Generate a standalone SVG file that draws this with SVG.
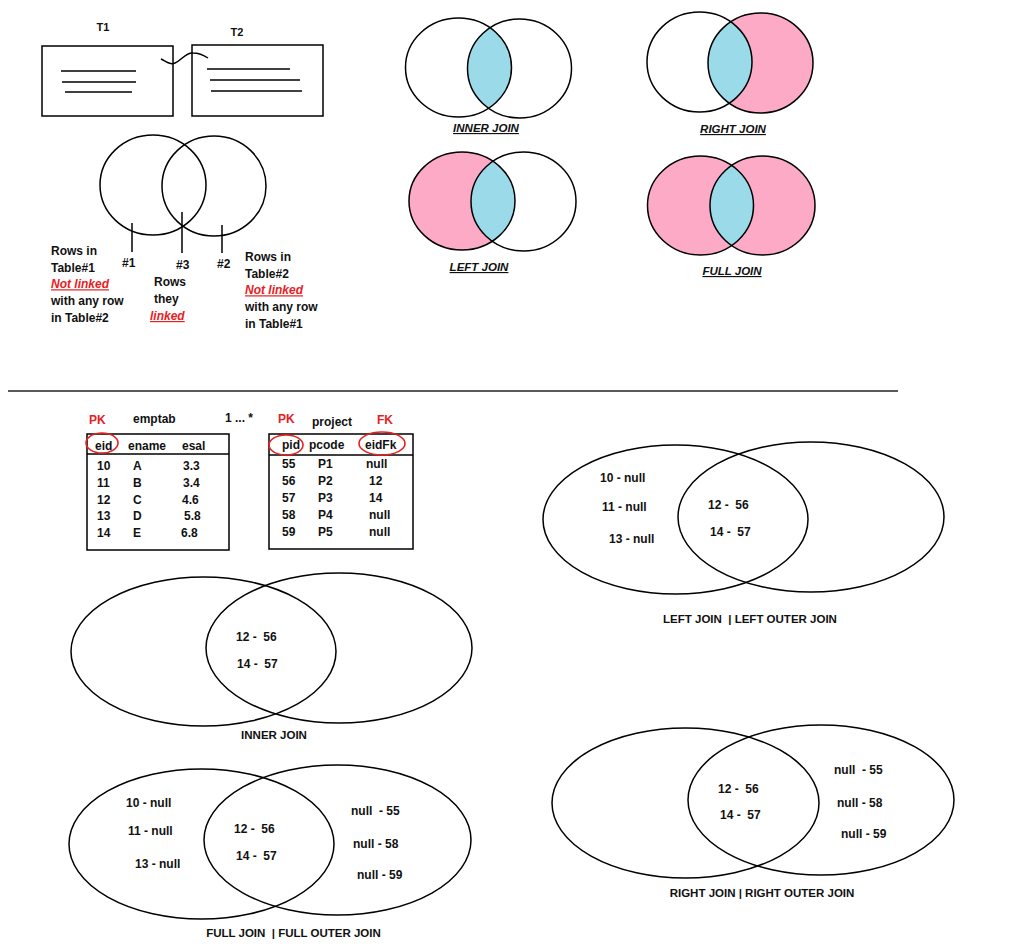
<svg xmlns="http://www.w3.org/2000/svg" width="1019" height="949" viewBox="0 0 1019 949">
<style>
text{font-family:"Liberation Sans",Arial,sans-serif;font-weight:bold;font-size:12px;fill:#111;}
.lbl{font-size:11.5px;}
.ilbl{font-size:11.5px;font-style:italic;text-decoration:underline;}
.red{fill:#e8201f;}
.nl{fill:#e8201f;font-style:italic;text-decoration:underline;}
.o{fill:none;stroke:#000;stroke-width:1.5;}
.ln{stroke:#000;stroke-width:1.5;fill:none;}
.rc{fill:none;stroke:#e8201f;stroke-width:1.6;}
.pink{fill:#fdaac6;}
.blue{fill:#9bdbe9;}
.pre{white-space:pre;}
</style>
<defs>
<clipPath id="cIJ"><ellipse cx="458.5" cy="67.5" rx="53" ry="49.5"/></clipPath>
<clipPath id="cRJ"><ellipse cx="699.5" cy="62" rx="52.5" ry="50"/></clipPath>
<clipPath id="cLJ"><ellipse cx="462" cy="201" rx="53" ry="49"/></clipPath>
<clipPath id="cFJ"><ellipse cx="700.5" cy="205.5" rx="53" ry="49.5"/></clipPath>
</defs>
<rect width="1019" height="949" fill="#fff"/>

<!-- T1 / T2 tables -->
<g id="t1">
<rect class="ln" x="42" y="46" width="131" height="70"/>
<line class="ln" x1="61" y1="71" x2="136" y2="71"/>
<line class="ln" x1="62" y1="82" x2="136" y2="82"/>
<line class="ln" x1="65" y1="92" x2="132" y2="92"/>
<text x="103" y="31" text-anchor="middle" style="font-size:11px">T1</text>
</g>
<g id="t2">
<rect class="ln" x="192" y="45" width="131" height="71"/>
<line class="ln" x1="207" y1="69" x2="290" y2="69"/>
<line class="ln" x1="210" y1="80" x2="300" y2="80"/>
<line class="ln" x1="211" y1="91" x2="302" y2="91"/>
<text x="237" y="36" text-anchor="middle" style="font-size:11px">T2</text>
</g>
<g id="connectors">
<path class="ln" d="M161,59 C167,62 170,65 175,63 C182,60 186,52 193,53 C200,53 205,56 208,58"/>
</g>

<!-- explanatory venn -->
<g id="venn-explain">
<ellipse class="o" cx="153" cy="185" rx="53" ry="50"/>
<ellipse class="o" cx="214" cy="186" rx="52" ry="50"/>
<line class="ln" x1="132" y1="223" x2="132" y2="252"/>
<line class="ln" x1="182" y1="212" x2="182" y2="253"/>
<line class="ln" x1="222" y1="225" x2="222" y2="253"/>
<text x="122" y="267">#1</text>
<text x="176" y="269">#3</text>
<text x="217" y="268">#2</text>
<text x="51" y="255">Rows in</text>
<text x="51" y="271.7">Table#1</text>
<text x="51" y="288.3" class="nl">Not linked</text>
<text x="51" y="305">with any row</text>
<text x="51" y="321.7">in Table#2</text>
<text x="154" y="286">Rows</text>
<text x="154" y="303">they</text>
<text x="150" y="320" class="nl">linked</text>
<text x="245" y="261">Rows in</text>
<text x="245" y="277.7">Table#2</text>
<text x="245" y="294.3" class="nl">Not linked</text>
<text x="245" y="311">with any row</text>
<text x="245" y="327.7">in Table#1</text>
</g>

<!-- top-right venns -->
<g id="venn-inner">
<ellipse class="blue" cx="519.5" cy="68.5" rx="52" ry="49.5" clip-path="url(#cIJ)"/>
<ellipse class="o" cx="458.5" cy="67.5" rx="53" ry="49.5"/>
<ellipse class="o" cx="519.5" cy="68.5" rx="52" ry="49.5"/>
<text x="486" y="132" text-anchor="middle" class="ilbl">INNER JOIN</text>
</g>
<g id="venn-right">
<ellipse class="pink" cx="760.5" cy="63" rx="52.5" ry="50"/>
<ellipse class="blue" cx="760.5" cy="63" rx="52.5" ry="50" clip-path="url(#cRJ)"/>
<ellipse class="o" cx="699.5" cy="62" rx="52.5" ry="50"/>
<ellipse class="o" cx="760.5" cy="63" rx="52.5" ry="50"/>
<text x="733" y="133" text-anchor="middle" class="ilbl">RIGHT JOIN</text>
</g>
<g id="venn-left">
<ellipse class="pink" cx="462" cy="201" rx="53" ry="49"/>
<ellipse class="blue" cx="523.5" cy="201.5" rx="52.5" ry="49.5" clip-path="url(#cLJ)"/>
<ellipse class="o" cx="462" cy="201" rx="53" ry="49"/>
<ellipse class="o" cx="523.5" cy="201.5" rx="52.5" ry="49.5"/>
<text x="479" y="271" text-anchor="middle" class="ilbl">LEFT JOIN</text>
</g>
<g id="venn-full">
<ellipse class="pink" cx="700.5" cy="205.5" rx="53" ry="49.5"/>
<ellipse class="pink" cx="762.5" cy="205.5" rx="52.5" ry="49.5"/>
<ellipse class="blue" cx="762.5" cy="205.5" rx="52.5" ry="49.5" clip-path="url(#cFJ)"/>
<ellipse class="o" cx="700.5" cy="205.5" rx="53" ry="49.5"/>
<ellipse class="o" cx="762.5" cy="205.5" rx="52.5" ry="49.5"/>
<text x="732" y="275" text-anchor="middle" class="ilbl">FULL JOIN</text>
</g>

<line x1="8" y1="391" x2="898" y2="391" stroke="#222" stroke-width="1.5"/>

<!-- emptab -->
<g id="emptab">
<text x="89" y="424" class="red">PK</text>
<text x="133" y="423">emptab</text>
<text x="225" y="422">1 ... *</text>
<rect class="ln" x="87" y="434" width="142" height="116"/>
<line class="ln" x1="87" y1="454" x2="229" y2="454"/>
<ellipse class="rc" cx="102" cy="443" rx="16" ry="10"/>
<text x="95" y="449.5">eid</text>
<text x="128" y="449.5">ename</text>
<text x="182" y="449.5">esal</text>
<text x="97" y="470">10</text><text x="133" y="470">A</text><text x="183" y="470">3.3</text>
<text x="97" y="487">11</text><text x="133" y="487">B</text><text x="183" y="487">3.4</text>
<text x="97" y="503.5">12</text><text x="133" y="503.5">C</text><text x="182" y="503.5">4.6</text>
<text x="97" y="520">13</text><text x="133" y="520">D</text><text x="184" y="520">5.8</text>
<text x="97" y="537">14</text><text x="133" y="537">E</text><text x="181" y="537">6.8</text>
</g>

<!-- project -->
<g id="project">
<text x="278" y="423" class="red">PK</text>
<text x="312" y="426">project</text>
<text x="377" y="424" class="red">FK</text>
<rect class="ln" x="269" y="434" width="144" height="115"/>
<line class="ln" x1="269" y1="455" x2="413" y2="455"/>
<ellipse class="rc" cx="286" cy="445" rx="17" ry="10"/>
<ellipse class="rc" cx="382" cy="443.5" rx="23" ry="11.5"/>
<text x="282" y="449">pid</text>
<text x="309" y="449">pcode</text>
<text x="365" y="449">eidFk</text>
<text x="282" y="468">55</text><text x="318" y="468">P1</text><text x="366" y="468">null</text>
<text x="282" y="485">56</text><text x="318" y="485">P2</text><text x="369" y="485">12</text>
<text x="282" y="502">57</text><text x="318" y="502">P3</text><text x="369" y="502">14</text>
<text x="282" y="519">58</text><text x="318" y="519">P4</text><text x="369" y="519">null</text>
<text x="282" y="536">59</text><text x="318" y="536">P5</text><text x="369" y="536">null</text>
</g>

<!-- left join big -->
<g id="big-left">
<ellipse class="o" cx="675.5" cy="519.5" rx="132.5" ry="74.5"/>
<ellipse class="o" cx="811" cy="517" rx="133" ry="75"/>
<text x="600" y="482">10 - null</text>
<text x="602" y="511">11 - null</text>
<text x="609" y="543">13 - null</text>
<text x="708" y="509" class="pre" xml:space="preserve">12 -  56</text>
<text x="710" y="536" class="pre" xml:space="preserve">14 -  57</text>
<text x="750" y="623" text-anchor="middle" class="lbl pre" xml:space="preserve">LEFT JOIN  | LEFT OUTER JOIN</text>
</g>

<!-- inner join big -->
<g id="big-inner">
<ellipse class="o" cx="203.5" cy="651.5" rx="132.5" ry="74.5"/>
<ellipse class="o" cx="339" cy="648" rx="133" ry="75"/>
<text x="236" y="641" class="pre" xml:space="preserve">12 -  56</text>
<text x="237" y="668" class="pre" xml:space="preserve">14 -  57</text>
<text x="274" y="739" text-anchor="middle" class="lbl">INNER JOIN</text>
</g>

<!-- full join big -->
<g id="big-full">
<ellipse class="o" cx="201.5" cy="844" rx="132.5" ry="75"/>
<ellipse class="o" cx="337.5" cy="840" rx="133.5" ry="75"/>
<text x="126" y="807">10 - null</text>
<text x="128" y="835">11 - null</text>
<text x="135" y="868">13 - null</text>
<text x="234" y="833" class="pre" xml:space="preserve">12 -  56</text>
<text x="236" y="860" class="pre" xml:space="preserve">14 -  57</text>
<text x="351" y="815" class="pre" xml:space="preserve">null  - 55</text>
<text x="353" y="848">null - 58</text>
<text x="357" y="879">null - 59</text>
<text x="293.5" y="937" text-anchor="middle" class="lbl pre" xml:space="preserve">FULL JOIN  | FULL OUTER JOIN</text>
</g>

<!-- right join big -->
<g id="big-right">
<ellipse class="o" cx="685.5" cy="803" rx="133.5" ry="75"/>
<ellipse class="o" cx="821" cy="800" rx="133" ry="75"/>
<text x="718" y="793" class="pre" xml:space="preserve">12 -  56</text>
<text x="720" y="819" class="pre" xml:space="preserve">14 -  57</text>
<text x="834" y="774" class="pre" xml:space="preserve">null  - 55</text>
<text x="837" y="807">null - 58</text>
<text x="841" y="838">null - 59</text>
<text x="762" y="897" text-anchor="middle" class="lbl">RIGHT JOIN | RIGHT OUTER JOIN</text>
</g>
</svg>
